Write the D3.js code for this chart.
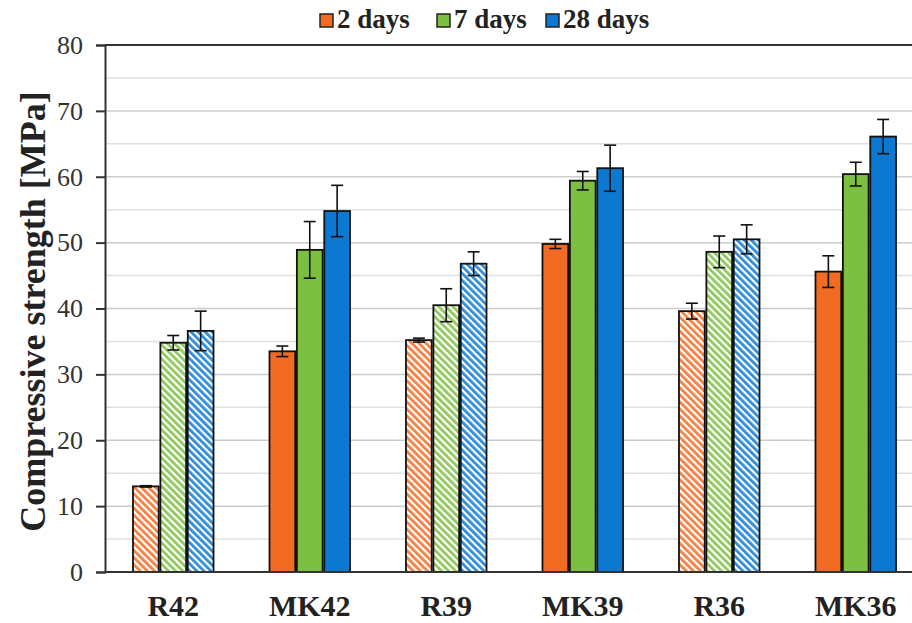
<!DOCTYPE html>
<html>
<head>
<meta charset="utf-8">
<script src="https://cdn.jsdelivr.net/npm/d3@7"></script>
<style>
  body { margin: 0; background: #fff; }
  svg { display: block; }
</style>
</head>
<body>
<svg id="chart" width="912" height="623"></svg>
<script>
// data
var mixes = ["R42", "MK42", "R39", "MK39", "R36", "MK36"];
var ages = ["2 days", "7 days", "28 days"];
var hatched = [true, false, true, false, true, false]; // reference mixes drawn hatched
var strength2 = [13.0, 33.5, 35.2, 49.8, 39.6, 45.6];
var strength7 = [34.8, 48.9, 40.5, 59.4, 48.6, 60.4];
var strength28 = [36.6, 54.8, 46.8, 61.3, 50.5, 66.1];
var err2 = [0.1, 0.8, 0.3, 0.7, 1.2, 2.4];
var err7 = [1.1, 4.3, 2.5, 1.4, 2.4, 1.8];
var err28 = [3.0, 3.9, 1.8, 3.5, 2.2, 2.6];
var yTicks = [0, 10, 20, 30, 40, 50, 60, 70, 80];
var colors = ["#f26b22", "#7dbf40", "#0b78d2"];

var series = [strength2, strength7, strength28];
var errs = [err2, err7, err28];

var svg = d3.select("#chart");
var plotLeft = 105, plotTop = 45, plotBottom = 572, plotRight = 924;
var serif = "'Liberation Serif', 'Times New Roman', serif";

var x0 = d3.scaleBand().domain(mixes).range([plotLeft, plotRight]).paddingInner(0.41).paddingOuter(0.205);
var x1 = d3.scaleBand().domain(d3.range(3)).range([0, x0.bandwidth()]).paddingInner(0.06);
var y = d3.scaleLinear().domain([0, 80]).range([plotBottom, plotTop]);

// hatch patterns
var defs = svg.append("defs");
colors.forEach(function (c, i) {
  var p = defs.append("pattern")
    .attr("id", "hatch" + i)
    .attr("patternUnits", "userSpaceOnUse")
    .attr("width", 5).attr("height", 5)
    .attr("patternTransform", "rotate(-45)");
  p.append("rect").attr("width", 5).attr("height", 5).attr("fill", "#fff");
  p.append("rect").attr("width", 2.8).attr("height", 5).attr("fill", c).attr("opacity", 0.85);
});

// gridlines every 5
svg.append("g").selectAll("line")
  .data(d3.range(5, 80, 5))
  .enter().append("line")
  .attr("x1", plotLeft).attr("x2", 912)
  .attr("y1", function (d) { return y(d); })
  .attr("y2", function (d) { return y(d); })
  .style("stroke", function (d) { return d % 10 === 0 ? "#cccccc" : "#e0e0e0"; })
  .style("stroke-width", 1.5);

// top frame line
svg.append("line")
  .attr("x1", plotLeft).attr("x2", 912).attr("y1", y(80)).attr("y2", y(80))
  .style("stroke", "#333").style("stroke-width", 2);

// bars
var groups = svg.append("g").selectAll("g")
  .data(mixes)
  .enter().append("g")
  .attr("transform", function (d) { return "translate(" + x0(d) + ",0)"; });

groups.each(function (m, mi) {
  var g = d3.select(this);
  series.forEach(function (s, si) {
    var v = s[mi];
    g.append("rect")
      .attr("x", x1(si))
      .attr("y", y(v))
      .attr("width", x1.bandwidth())
      .attr("height", y(0) - y(v))
      .attr("fill", hatched[mi] ? "url(#hatch" + si + ")" : colors[si])
      .attr("stroke", "#111")
      .attr("stroke-width", 1.8);
    var cx = x1(si) + x1.bandwidth() / 2;
    var e = errs[si][mi];
    g.append("line")
      .attr("x1", cx).attr("x2", cx)
      .attr("y1", y(v + e)).attr("y2", y(v - e))
      .style("stroke", "#111").style("stroke-width", 1.6);
    [v + e, v - e].forEach(function (t) {
      g.append("line")
        .attr("x1", cx - 6).attr("x2", cx + 6)
        .attr("y1", y(t)).attr("y2", y(t))
        .style("stroke", "#111").style("stroke-width", 1.6);
    });
  });
});

// y axis
var yAxis = svg.append("g")
  .attr("transform", "translate(" + plotLeft + ",0)")
  .call(d3.axisLeft(y).tickValues(yTicks).tickSize(9).tickPadding(13));
yAxis.select(".domain").style("stroke", "#333").style("stroke-width", 2);
yAxis.selectAll(".tick line").style("stroke", "#333").style("stroke-width", 2);
yAxis.selectAll("text")
  .style("font-family", serif)
  .style("font-size", "26px")
  .style("fill", "#333");

// x axis
var xAxis = svg.append("g")
  .attr("transform", "translate(0," + plotBottom + ")")
  .call(d3.axisBottom(x0).tickSize(0).tickPadding(23));
xAxis.select(".domain").remove();
svg.append("line")
  .attr("x1", plotLeft).attr("x2", 912).attr("y1", plotBottom).attr("y2", plotBottom)
  .style("stroke", "#333").style("stroke-width", 2);
xAxis.selectAll("text")
  .style("font-family", serif)
  .style("font-size", "30px")
  .style("font-weight", "bold")
  .style("fill", "#222");

// y title
svg.append("text")
  .attr("transform", "translate(45," + ((plotTop + plotBottom) / 2 + 3) + ") rotate(-90)")
  .attr("text-anchor", "middle")
  .style("font-family", serif)
  .style("font-size", "36px")
  .style("font-weight", "bold")
  .style("fill", "#222")
  .text("Compressive strength [MPa]");

// legend
var legendX = [320, 437, 546];
var legend = svg.append("g").selectAll("g")
  .data(ages)
  .enter().append("g")
  .attr("transform", function (d, i) { return "translate(" + legendX[i] + ",14)"; });
legend.append("rect")
  .attr("width", 13).attr("height", 13)
  .attr("fill", function (d, i) { return colors[i]; })
  .attr("stroke", "#222").attr("stroke-width", 1.5);
legend.append("text")
  .attr("x", 17).attr("y", 14)
  .style("font-family", serif)
  .style("font-size", "27px")
  .style("font-weight", "bold")
  .style("fill", "#222")
  .text(function (d) { return d; });
</script>
</body>
</html>
